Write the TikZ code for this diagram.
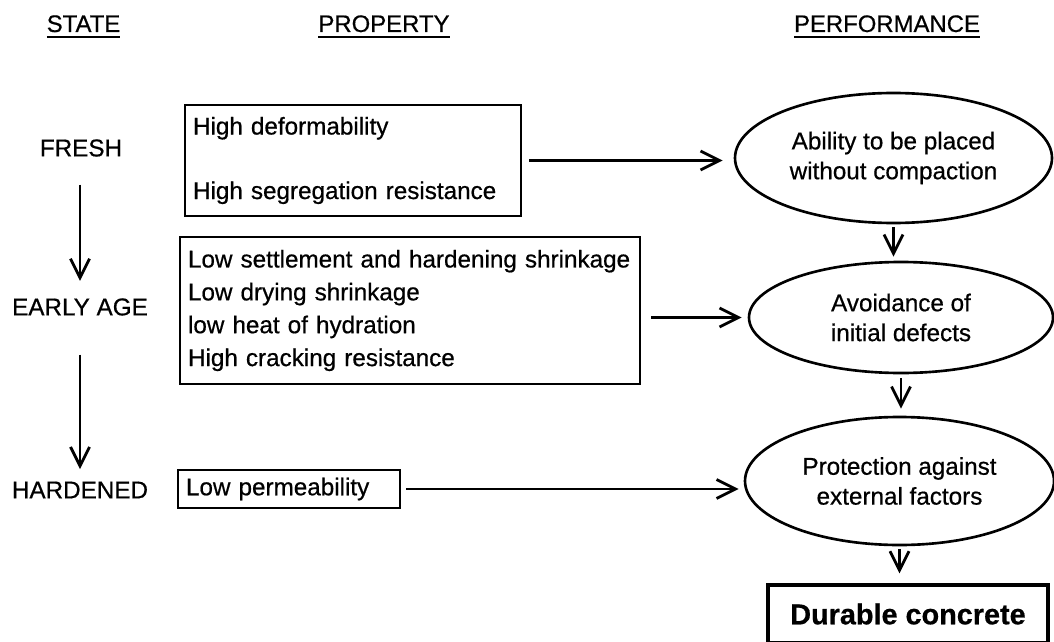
\documentclass[tikz,border=0pt]{standalone}
\usepackage{fontspec}
\setmainfont{Liberation Sans}[FakeBold=0.6]
\newcommand{\thickul}[1]{\setbox0\hbox{#1}\rlap{\rule[-3.4pt]{\wd0}{1.3pt}}\box0}
\usetikzlibrary{arrows.meta,shapes.geometric,positioning}
\tikzset{
  scc head/.style={
    font=\fontsize{13.6}{16}\selectfont,
    anchor=base,
    inner sep=0pt,
  },
  scc state/.style={
    font=\fontsize{13.8}{16}\selectfont,
    inner sep=3pt,
  },
  scc box/.style={
    draw=black,
    line width=1.5pt,
    align=left,
    inner xsep=0.16cm,
    font=\fontsize{13.8}{18.7}\selectfont,
  },
  scc ellipse/.style={
    ellipse,
    draw=black,
    line width=1.5pt,
    align=center,
    inner sep=1pt,
    font=\fontsize{13.8}{17}\selectfont,
  },
  scc flow/.style={
    -{Straight Barb[length=3.8mm, width=3.8mm, line width=1.6pt]},
    line width=1.6pt,
  },
}

\begin{document}
\begin{tikzpicture}
  \useasboundingbox (0,0) rectangle (21.08,-12.82);

  % --- column headings ---
  \node[scc head] (hstate) at (1.67,-0.64) {\thickul{STATE}};
  \node[scc head] (hprop)  at (7.68,-0.64) {\thickul{PROPERTY}};
  \node[scc head] (hperf)  at (17.74,-0.64) {\thickul{PERFORMANCE}};

  % --- states ---
  \node[scc state] (fresh)    at (1.62,-2.96) {FRESH};
  \node[scc state] (early)    at (1.60,-6.14) {EARLY AGE};
  \node[scc state] (hardened) at (1.60,-9.80) {HARDENED};

  \draw[scc flow, shorten <=0.45cm, shorten >=0.24cm]
    (fresh.south -| early.north) -- (early.north);
  \draw[scc flow, shorten <=0.67cm, shorten >=0.14cm]
    (early.south) -- (early.south |- hardened.north);

  % --- properties ---
  \node[scc box, minimum height=2.22cm, text width=6.40cm]
    (deform) at (7.06,-3.21) {High deformability\\[18pt]High segregation resistance};
  \node[scc box, minimum height=2.94cm, text width=8.88cm]
    (shrink) at (8.20,-6.21) {Low settlement and hardening shrinkage\\
      Low drying shrinkage\\
      low heat of hydration\\
      High cracking resistance};
  \node[scc box, minimum height=0.76cm, text width=4.12cm]
    (perm) at (5.78,-9.78) {Low permeability};

  % --- performance ---
  \node[scc ellipse, minimum width=6.34cm, minimum height=2.60cm]
    (place) at (17.87,-3.16) {Ability to be placed\\without compaction};
  \node[scc ellipse, minimum width=6.08cm, minimum height=2.22cm]
    (defects) at (18.02,-6.35) {Avoidance of\\initial defects};
  \node[scc ellipse, minimum width=6.18cm, minimum height=2.56cm]
    (protect) at (17.99,-9.62) {Protection against\\external factors};
  \node[draw=black, line width=1.9pt, minimum width=5.60cm, minimum height=1.16cm,
        font=\fontsize{16.4}{18}\selectfont\bfseries]
    (durable) at (18.16,-12.28) {Durable concrete};

  % --- property -> performance ---
  \draw[scc flow, shorten <=0.14cm, shorten >=0.22cm]
    (deform.east) -- (deform.east -| place.west);
  \draw[scc flow, shorten <=0.2cm, shorten >=0.12cm]
    (shrink.east |- defects.west) -- (defects.west);
  \draw[scc flow, shorten <=0.1cm, shorten >=0.1cm]
    (perm.east) -- (perm.east -| protect.west);

  % --- performance chain ---
  \draw[scc flow, shorten <=0.06cm, shorten >=0.08cm]
    (place.south) -- (place.south |- defects.north);
  \draw[scc flow, shorten <=0.08cm, shorten >=0.14cm]
    (defects.south) -- (defects.south |- protect.north);
  \draw[scc flow, shorten <=0.06cm, shorten >=0.2cm]
    (protect.south) -- (protect.south |- durable.north);

\end{tikzpicture}
\end{document}
